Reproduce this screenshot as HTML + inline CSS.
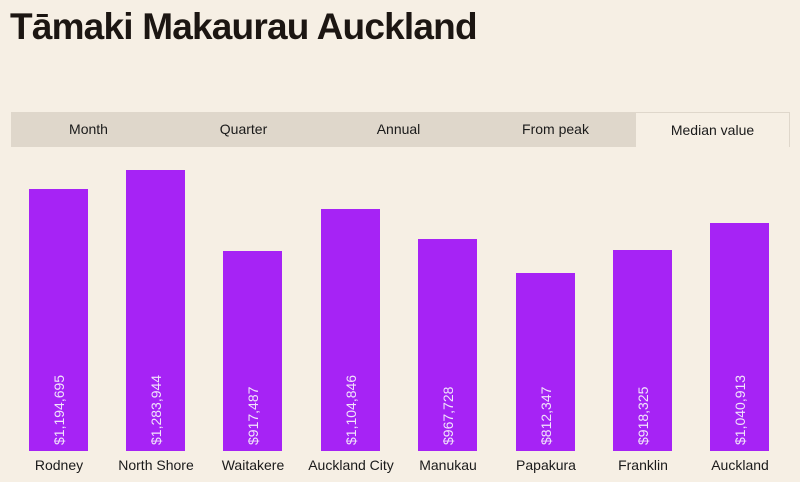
<!DOCTYPE html><html><head><style>
body{margin:0;width:800px;height:482px;background:#f6efe4;font-family:"Liberation Sans",sans-serif;position:relative;overflow:hidden;color:#1a1a1a}
h1{position:absolute;left:10px;top:6px;margin:0;font-size:37px;font-weight:bold;letter-spacing:-0.8px;color:#1c1612}
.tabs{position:absolute;left:11px;top:112px;width:779px;height:35px;background:#dfd7cb}
.tab{position:absolute;top:0;height:35px;line-height:35px;font-size:14px;text-align:center;width:155px}
.act{background:#f6efe4;top:1px;height:34px;width:153px}
.bar{position:absolute;width:59px;background:#a623f5;bottom:31px}
.bar span{position:absolute;left:50%;bottom:-10px;transform-origin:0 0;transform:rotate(-90deg) translateY(-50%);white-space:nowrap;color:#f1e4fb;font-size:14px}
.lab{position:absolute;top:457px;width:120px;text-align:center;font-size:14px}
</style></head><body>
<h1>Tāmaki Makaurau Auckland</h1>
<div class="tabs">
<div class="tab" style="left:0">Month</div>
<div class="tab" style="left:155px">Quarter</div>
<div class="tab" style="left:310px">Annual</div>
<div class="tab" style="left:467px">From peak</div>
<div class="tab act" style="left:625px">Median value</div>
</div>
<div class="bar" style="left:29px;top:189px"><span>$1,194,695</span></div>
<div class="bar" style="left:126px;top:170px"><span>$1,283,944</span></div>
<div class="bar" style="left:223px;top:251px"><span>$917,487</span></div>
<div class="bar" style="left:321px;top:209px"><span>$1,104,846</span></div>
<div class="bar" style="left:418px;top:239px"><span>$967,728</span></div>
<div class="bar" style="left:516px;top:273px"><span>$812,347</span></div>
<div class="bar" style="left:613px;top:250px"><span>$918,325</span></div>
<div class="bar" style="left:710px;top:223px"><span>$1,040,913</span></div>
<div class="lab" style="left:-1px">Rodney</div>
<div class="lab" style="left:96px">North Shore</div>
<div class="lab" style="left:193px">Waitakere</div>
<div class="lab" style="left:291px">Auckland City</div>
<div class="lab" style="left:388px">Manukau</div>
<div class="lab" style="left:486px">Papakura</div>
<div class="lab" style="left:583px">Franklin</div>
<div class="lab" style="left:680px">Auckland</div>
</body></html>
